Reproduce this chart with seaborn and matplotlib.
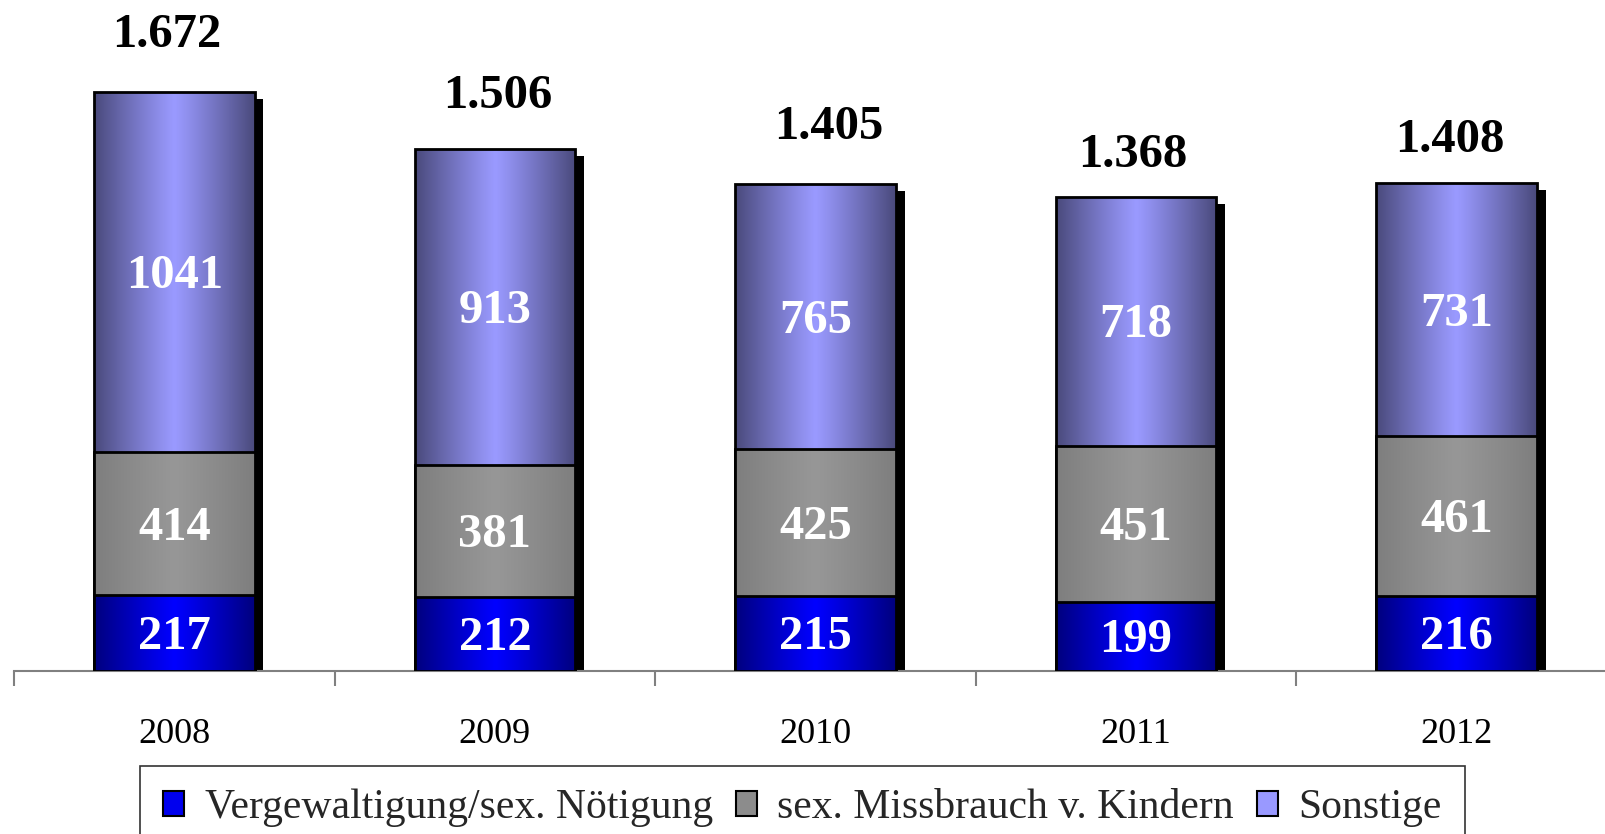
import numpy as np
import pandas as pd
import matplotlib
matplotlib.use("Agg")
import matplotlib.pyplot as plt
from matplotlib.patches import Patch
from matplotlib.colors import LinearSegmentedColormap
import seaborn as sns

# Data
years = ["2008", "2009", "2010", "2011", "2012"]
vergewaltigung = [217, 212, 215, 199, 216]
missbrauch = [414, 381, 425, 451, 461]
sonstige = [1041, 913, 765, 718, 731]
series_names = ["Vergewaltigung/sex. Nötigung", "sex. Missbrauch v. Kindern", "Sonstige"]

# hand placement of the total labels above each column (pixels)
total_label_dx = [-8, 3, 13, -3, -7]
total_label_gap = [61, 57, 61, 46, 47]

sns.set_theme(style="white")
plt.rcParams["font.family"] = ["Liberation Serif", "DejaVu Serif"]

df = pd.DataFrame({"Jahr": years, "v": vergewaltigung, "m": missbrauch, "s": sonstige})
df["c1"] = df["v"]
df["c2"] = df["v"] + df["m"]
df["c3"] = df["v"] + df["m"] + df["s"]

fig = plt.figure(figsize=(16.05, 8.34), dpi=100)
ax = fig.add_axes([0.0088, 0.196, 0.9985, 0.804])

BAR_W = 0.5

# gradient (edge colour, centre colour) for each series
grad = {
    "s": ("#4a4a7c", "#9a9aff"),
    "m": ("#7e7e7e", "#979797"),
    "v": ("#00007e", "#0000ff"),
}
solid = {"s": "#9999ff", "m": "#8c8c8c", "v": "#0000e0"}

# drop shadow behind each column
shadow_dx = 0.028
shadow_drop = 20
sns.barplot(x=df["Jahr"], y=df["c3"] - shadow_drop, color="black", width=BAR_W,
            saturation=1, ax=ax, zorder=1, linewidth=0)
for p in ax.patches:
    p.set_x(p.get_x() + shadow_dx)

profile = np.abs(np.linspace(-1, 1, 256)) ** 1.1
layers = [("s", "c3", 2), ("m", "c2", 3), ("v", "c1", 4)]
for key, col, z in layers:
    before = len(ax.patches)
    sns.barplot(x=df["Jahr"], y=df[col], color=solid[key], width=BAR_W,
                saturation=1, ax=ax, zorder=z, edgecolor="black", linewidth=2)
    cmap = LinearSegmentedColormap.from_list(key, [grad[key][1], grad[key][0]])
    for p in ax.patches[before:]:
        x0, w, h = p.get_x(), p.get_width(), p.get_height()
        im = ax.imshow(profile[np.newaxis, :], cmap=cmap, aspect="auto",
                       extent=[x0, x0 + w, 0, h], zorder=z - 0.05,
                       interpolation="bilinear", vmin=0, vmax=1)
        im.set_clip_path(p)
        p.set_facecolor("none")

LABEL_FS = 35
half_digit = 16  # half of the digit height in pixels

# value labels inside segments and totals on top
for i in range(len(years)):
    bottoms = [0, vergewaltigung[i], vergewaltigung[i] + missbrauch[i]]
    vals = [vergewaltigung[i], missbrauch[i], sonstige[i]]
    for b, v in zip(bottoms, vals):
        ax.annotate(str(v), xy=(i, b + v / 2), xytext=(0, -half_digit),
                    textcoords="offset pixels", ha="center", va="baseline",
                    color="white", fontsize=LABEL_FS, fontweight="bold", zorder=10)
    total = vals[0] + vals[1] + vals[2]
    ax.annotate(f"{total:,}".replace(",", "."), xy=(i, total),
                xytext=(total_label_dx[i], total_label_gap[i] - half_digit),
                textcoords="offset pixels", ha="center", va="baseline",
                color="black", fontsize=LABEL_FS, fontweight="bold", zorder=10,
                annotation_clip=False)

ax.set_xlim(-0.5, 4.5)
ax.set_ylim(0, 1938)
ax.set_xlabel("")
ax.set_ylabel("")
ax.set_yticks([])
for s in ["top", "right", "left"]:
    ax.spines[s].set_visible(False)
ax.spines["bottom"].set_color("#808080")
ax.spines["bottom"].set_linewidth(1.5)
ax.set_xticks(range(len(years)))
ax.set_xticklabels(years, fontsize=26)
ax.set_xticks(np.arange(-0.5, 5, 1), minor=True)
ax.tick_params(axis="x", which="major", bottom=True, length=0, pad=34, colors="black")
ax.tick_params(axis="x", which="minor", bottom=True, length=11, width=1.5,
               color="#808080", direction="out")
ax.patch.set_alpha(0)

handles = [Patch(facecolor=c, edgecolor="black", linewidth=1.5)
           for c in ["#0000ee", "#8c8c8c", "#9999ff"]]
leg = fig.legend(handles, series_names, loc="upper center", ncol=3,
                 bbox_to_anchor=(0.5, 1 - 766 / 834), fontsize=30, frameon=True,
                 fancybox=False, edgecolor="black", handlelength=0.5, handleheight=0.55,
                 handletextpad=0.5, columnspacing=0.55, borderpad=0.55, borderaxespad=0)
leg.get_frame().set_linewidth(1.2)

fig.savefig("out.png", dpi=100, facecolor="white")
